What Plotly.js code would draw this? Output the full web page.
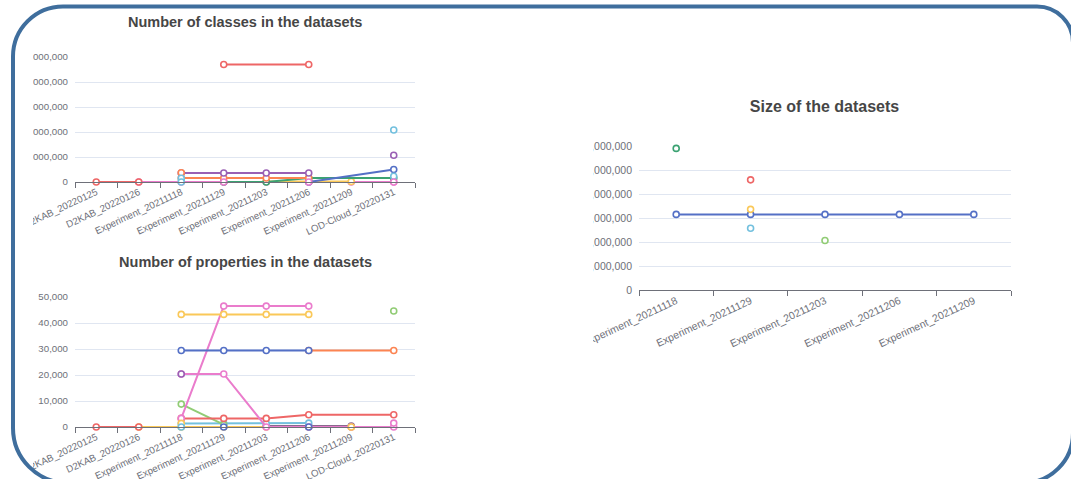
<!DOCTYPE html>
<html>
<head>
<meta charset="utf-8">
<script src="https://cdn.plot.ly/plotly-3.0.1.min.js"></script>
<style>
  html, body { margin: 0; padding: 0; background: #ffffff; width: 1071px; height: 479px; overflow: hidden; }
  .chart { position: absolute; }
  #frame { position: absolute; left: 0; top: 0; pointer-events: none; }
</style>
</head>
<body>
<div id="classes" class="chart" style="left:0px;top:0px;width:460px;height:240px;clip-path:inset(0px 0px 0px 33px);"></div>
<div id="props" class="chart" style="left:0px;top:240px;width:460px;height:240px;clip-path:inset(0px 0px 0px 33px);"></div>
<div id="size" class="chart" style="left:560px;top:80px;width:480px;height:300px;clip-path:inset(0px 0px 0px 33px);"></div>
<svg id="frame" width="1071" height="479">
  <path d="M 63 6.5 H 1037 A 36 36 0 0 1 1073 42.5 V 433 A 50 50 0 0 1 1023 483 H 68 A 55 55 0 0 1 13 428 V 56.5 A 50 50 0 0 1 63 6.5 Z"
        fill="none" stroke="#3f6e9d" stroke-width="4"/>
</svg>
<script>
// ---------- categories ----------
const datasets = ['D2KAB_20220125','D2KAB_20220126','Experiment_20211118','Experiment_20211129','Experiment_20211203','Experiment_20211206','Experiment_20211209','LOD-Cloud_20220131'];
const experiments = ['Experiment_20211118','Experiment_20211129','Experiment_20211203','Experiment_20211206','Experiment_20211209'];

// ---------- palette ----------
const C = {blue:'#5470c6', lgreen:'#91cc75', yellow:'#fac858', red:'#ee6666', cyan:'#73c0de', green:'#3ba272', orange:'#fc8452', purple:'#9a60b4', pink:'#ea7ccc'};

// ---------- Number of classes (aligned to datasets) ----------
const clsRedD2kab   = [0, 0, null, null, null, null, null, null];
const clsPink       = [null, 0, 0, 0, 0, 0, 0, 0];
const clsRedTop     = [null, null, null, 4700000, null, 4700000, null, null];
const clsPurple     = [null, null, 360000, 360000, 360000, 360000, null, null];
const clsPurpleLod  = [null, null, null, null, null, null, null, 1070000];
const clsGreen      = [null, null, null, 0, 0, 160000, null, 160000];
const clsOrange     = [null, null, 160000, 160000, 160000, 160000, null, null];
const clsOrangeTop  = [null, null, 370000, null, null, null, null, null];
const clsYellow     = [null, null, null, null, 20000, 20000, 20000, null];
const clsBlue       = [null, null, null, null, null, 0, null, 500000];
const clsCyan       = [null, null, 150000, null, null, null, null, 230000];
const clsCyanHigh   = [null, null, 0, null, null, null, null, 2080000];
const clsPinkLow    = [null, null, null, 0, null, 0, null, 0];

// ---------- Number of properties (aligned to datasets) ----------
const prRedD2kab    = [0, 0, null, null, null, null, null, null];
const prYellowLow   = [null, 0, 0, 0, 0, 0, 0, null];
const prYellowHigh  = [null, null, 43300, 43300, 43300, 43300, null, null];
const prBlue        = [null, null, 29400, 29400, 29400, 29400, null, null];
const prOrange      = [null, null, null, null, null, 29400, null, 29400];
const prLGreen      = [null, null, 8800, 900, null, null, null, null];
const prLGreenLod   = [null, null, null, null, null, null, null, 44600];
const prCyan        = [null, null, 1300, 1300, 1300, 1500, null, null];
const prCyanZero    = [null, null, 0, null, null, null, null, null];
const prRed         = [null, null, 3300, 3300, 3300, 4700, null, 4700];
const prPurpleDark  = [null, null, null, null, 400, 400, 400, null];
const prPinkRise    = [null, null, 3300, 46500, 46500, 46500, null, null];
const prPinkFall    = [null, null, 20400, 20400, 0, 0, 0, 0];
const prPurple      = [null, null, 20400, null, null, null, null, null];
const prPinkLod     = [null, null, null, null, null, null, null, 1500];
const prBlueZero    = [null, null, null, 0, null, 0, null, null];
const prYellowMark  = [null, null, 1400, null, null, null, 0, null];

// ---------- Size of the datasets (aligned to experiments) ----------
const szBlue   = [3150000, 3150000, 3150000, 3150000, 3150000];
const szGreen  = [5900000, null, null, null, null];
const szRed    = [null, 4590000, null, null, null];
const szYellow = [null, 3360000, null, null, null];
const szCyan   = [null, 2570000, null, null, null];
const szLGreen = [null, null, 2060000, null, null];

function tr(cats, y, color, gaps, mode) {
  return {
    type: 'scatter', x: cats, y: y, mode: mode || 'lines+markers',
    connectgaps: !!gaps, cliponaxis: false, hoverinfo: 'skip', showlegend: false,
    line: {color: color, width: 2},
    marker: {symbol: 'circle', size: 6, color: '#ffffff', line: {color: color, width: 1.6}}
  };
}

const FONT = 'Liberation Sans, Arial, sans-serif';

function layout(opts) {
  return {
    width: opts.w, height: opts.h,
    margin: {l: opts.l, r: opts.r, t: opts.t, b: opts.b, pad: 0},
    paper_bgcolor: 'rgba(0,0,0,0)', plot_bgcolor: 'rgba(0,0,0,0)',
    font: {family: FONT, color: '#6E7079'},
    showlegend: false,
    title: {
      text: opts.title, xref: 'container', yref: 'container',
      x: opts.tx, y: opts.ty, xanchor: 'center', yanchor: 'middle',
      font: {family: FONT, size: opts.tsize, color: '#464646', weight: 'bold'}
    },
    xaxis: {
      type: 'category', categoryorder: 'array', categoryarray: opts.cats,
      range: [-0.5, opts.cats.length - 0.5], fixedrange: true,
      tickson: 'boundaries', ticks: 'outside', ticklen: 5, tickwidth: 1, tickcolor: '#6E7079',
      showline: true, linecolor: '#6E7079', linewidth: 1, showgrid: false, zeroline: false,
      tickangle: -25, tickfont: {family: FONT, size: opts.fs, color: '#6E7079'}
    },
    yaxis: {
      range: opts.yr, dtick: opts.dtick, tick0: 0, tickformat: ',d', fixedrange: true,
      showgrid: true, gridcolor: '#E0E6F1', gridwidth: 1, zeroline: false, showline: false,
      ticks: '', ticklabelstandoff: 6, tickfont: {family: FONT, size: opts.fs, color: '#6E7079'}
    }
  };
}

const cfg = {displayModeBar: false, staticPlot: true};

// Classes chart
Plotly.newPlot('classes', [
  tr(datasets, clsPink, C.pink),
  tr(datasets, clsRedD2kab, C.red),
  tr(datasets, clsRedTop, C.red, true),
  tr(datasets, clsYellow, C.yellow),
  tr(datasets, clsGreen, C.green, true),
  tr(datasets, clsBlue, C.blue, true),
  tr(datasets, clsOrange, C.orange),
  tr(datasets, clsPurple, C.purple),
  tr(datasets, clsPurpleLod, C.purple, false, 'markers'),
  tr(datasets, clsOrangeTop, C.orange, false, 'markers'),
  tr(datasets, clsCyan, C.cyan, false, 'markers'),
  tr(datasets, clsCyanHigh, C.cyan, false, 'markers'),
  tr(datasets, clsPinkLow, C.pink, false, 'markers')
], layout({w: 460, h: 240, l: 75, r: 45, t: 57, b: 58, cats: datasets,
  title: 'Number of classes in the datasets', tx: 245.2 / 460, ty: 1 - 22 / 240, tsize: 14.5,
  fs: 9.7, yr: [0, 5000000], dtick: 1000000}), cfg);

// Properties chart
Plotly.newPlot('props', [
  tr(datasets, prYellowLow, C.yellow),
  tr(datasets, prRedD2kab, C.red),
  tr(datasets, prPurpleDark, '#8a6a8e'),
  tr(datasets, prCyan, C.cyan),
  tr(datasets, prLGreen, C.lgreen),
  tr(datasets, prRed, C.red, true),
  tr(datasets, prPinkFall, C.pink),
  tr(datasets, prPinkRise, C.pink),
  tr(datasets, prYellowHigh, C.yellow),
  tr(datasets, prOrange, C.orange, true),
  tr(datasets, prBlue, C.blue),
  tr(datasets, prPurple, C.purple, false, 'markers'),
  tr(datasets, prLGreenLod, C.lgreen, false, 'markers'),
  tr(datasets, prPinkLod, C.pink, false, 'markers'),
  tr(datasets, prYellowMark, C.yellow, false, 'markers'),
  tr(datasets, prCyanZero, C.cyan, false, 'markers'),
  tr(datasets, prBlueZero, C.blue, false, 'markers')
], layout({w: 460, h: 240, l: 75, r: 45, t: 56.7, b: 52.7, cats: datasets,
  title: 'Number of properties in the datasets', tx: 245.6 / 460, ty: 1 - 21.7 / 240, tsize: 14.5,
  fs: 9.7, yr: [0, 50000], dtick: 10000}), cfg);

// Size chart
Plotly.newPlot('size', [
  tr(experiments, szBlue, C.blue),
  tr(experiments, szGreen, C.green, false, 'markers'),
  tr(experiments, szRed, C.red, false, 'markers'),
  tr(experiments, szYellow, C.yellow, false, 'markers'),
  tr(experiments, szCyan, C.cyan, false, 'markers'),
  tr(experiments, szLGreen, C.lgreen, false, 'markers')
], layout({w: 480, h: 300, l: 79.3, r: 29.3, t: 65.7, b: 89.7, cats: experiments,
  title: 'Size of the datasets', tx: 264.5 / 480, ty: 1 - 26.7 / 300, tsize: 16,
  fs: 10.5, yr: [0, 6000000], dtick: 1000000}), cfg);
</script>
</body>
</html>
